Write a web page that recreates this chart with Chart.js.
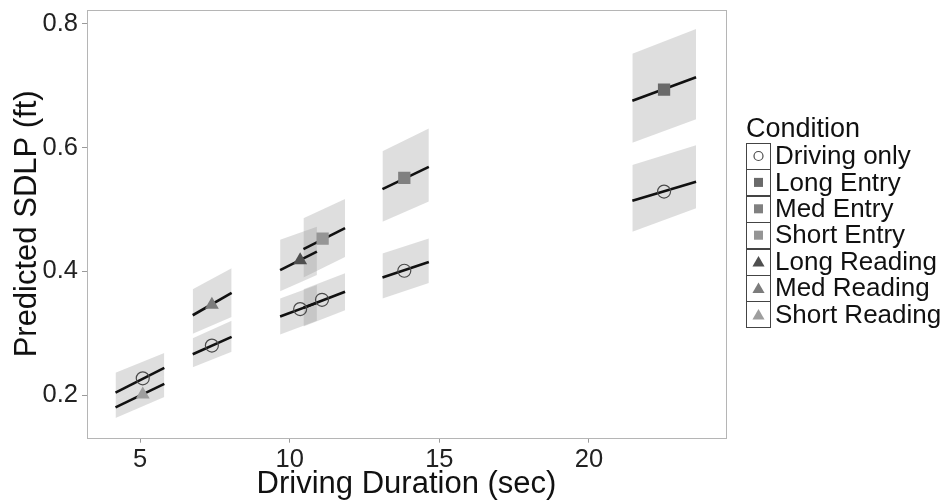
<!DOCTYPE html>
<html>
<head>
<meta charset="utf-8">
<script src="https://cdn.jsdelivr.net/npm/chart.js@4.4.1/dist/chart.umd.min.js"></script>
<style>
  html, body { margin: 0; padding: 0; background: #fff; }
  #wrap { width: 945px; height: 502px; position: relative; }
</style>
</head>
<body>
<div id="wrap"><canvas id="chart"></canvas></div>
<script>
// DATA
const conditions = ["Driving only", "Long Entry", "Med Entry", "Short Entry", "Long Reading", "Med Reading", "Short Reading"];

// predicted SDLP at each task's mean duration
const pointCond = ["Driving only", "Driving only", "Driving only", "Driving only", "Driving only", "Driving only",
                   "Long Entry", "Med Entry", "Short Entry", "Long Reading", "Med Reading", "Short Reading"];
const pointX = [5.09, 7.40, 10.35, 11.08, 13.83, 22.51, 22.51, 13.83, 11.10, 10.35, 7.40, 5.09];
const pointY = [0.227, 0.280, 0.339, 0.354, 0.401, 0.529, 0.694, 0.551, 0.453, 0.418, 0.346, 0.201];

// fitted segments: start/end of duration, fit, lower and upper band
const segCond = ["Short Reading", "Driving only", "Med Reading", "Driving only", "Long Reading", "Driving only",
                 "Short Entry", "Driving only", "Med Entry", "Driving only", "Long Entry", "Driving only"];
const segX0 = [4.18, 4.18, 6.76, 6.76, 9.68, 9.68, 10.46, 10.46, 13.10, 13.10, 21.45, 21.45];
const segX1 = [5.81, 5.81, 8.06, 8.06, 10.91, 10.91, 11.85, 11.85, 14.65, 14.65, 23.58, 23.58];
const fit0 = [0.180, 0.204, 0.329, 0.266, 0.402, 0.327, 0.436, 0.341, 0.533, 0.390, 0.676, 0.514];
const fit1 = [0.218, 0.244, 0.365, 0.294, 0.432, 0.349, 0.470, 0.367, 0.569, 0.415, 0.714, 0.545];
const lo0 = [0.163, 0.192, 0.299, 0.245, 0.368, 0.298, 0.390, 0.311, 0.480, 0.356, 0.608, 0.464];
const lo1 = [0.197, 0.231, 0.326, 0.270, 0.394, 0.320, 0.423, 0.337, 0.513, 0.381, 0.646, 0.502];
const hi0 = [0.192, 0.236, 0.371, 0.292, 0.451, 0.356, 0.486, 0.371, 0.594, 0.429, 0.752, 0.572];
const hi1 = [0.231, 0.268, 0.405, 0.320, 0.472, 0.378, 0.517, 0.397, 0.631, 0.453, 0.792, 0.604];

const xTicks = [5, 10, 15, 20];
const yTicks = [0.2, 0.4, 0.6, 0.8];

// STYLES
const FONT = '"Liberation Sans", Arial, sans-serif';
const condShape = ["circle", "rect", "rect", "rect", "triangle", "triangle", "triangle"];
const condColor = ["#4a4a4a", "#6a6a6a", "#808080", "#959595", "#4f4f4f", "#7c7c7c", "#9e9e9e"];
const bandColor = "rgba(150,150,150,0.31)";

function pointRadius(shape) {
    if (shape === "circle") return 6.5;
    if (shape === "rect") return 8.7;
    return 8;
}

const datasets = [];

// points first so they are drawn on top
conditions.forEach((c, ci) => {
    const pts = [];
    pointCond.forEach((pc, i) => {
        if (pc === c) pts.push({ x: pointX[i], y: pointY[i] });
    });
    const hollow = condShape[ci] === "circle";
    datasets.push({
        label: c,
        data: pts,
        showLine: false,
        pointStyle: condShape[ci],
        pointRadius: pointRadius(condShape[ci]),
        backgroundColor: hollow ? "rgba(0,0,0,0)" : condColor[ci],
        borderColor: condColor[ci],
        pointBorderWidth: hollow ? 1.2 : 0,
        order: 1
    });
});

// fit lines
segCond.forEach((c, i) => {
    datasets.push({
        label: c + " fit",
        data: [{ x: segX0[i], y: fit0[i] }, { x: segX1[i], y: fit1[i] }],
        borderColor: "#111111",
        borderWidth: 2.6,
        pointRadius: 0,
        fill: false,
        order: 2
    });
});

// bands: lower edge, then upper edge filled down to it
segCond.forEach((c, i) => {
    datasets.push({
        label: c + " lo",
        data: [{ x: segX0[i], y: lo0[i] }, { x: segX1[i], y: lo1[i] }],
        borderColor: "rgba(0,0,0,0)",
        borderWidth: 0,
        pointRadius: 0,
        fill: false,
        order: 3
    });
    datasets.push({
        label: c + " hi",
        data: [{ x: segX0[i], y: hi0[i] }, { x: segX1[i], y: hi1[i] }],
        borderColor: "rgba(0,0,0,0)",
        borderWidth: 0,
        pointRadius: 0,
        fill: "-1",
        backgroundColor: bandColor,
        order: 3
    });
});

// LEGEND + PANEL BORDER
const panelPlugin = {
    id: "panel",
    afterDraw(chart) {
        const { ctx, chartArea: a } = chart;
        ctx.save();
        ctx.strokeStyle = "#b5b5b5";
        ctx.lineWidth = 1;
        ctx.strokeRect(Math.round(a.left) + 0.5, Math.round(a.top) + 0.5,
            Math.round(a.right - a.left), Math.round(a.bottom - a.top));
        ctx.restore();
    }
};

const legendPlugin = {
    id: "condLegend",
    afterDraw(chart) {
        const ctx = chart.ctx;
        ctx.save();
        ctx.textBaseline = "middle";
        ctx.fillStyle = "#111";
        ctx.font = "27px " + FONT;
        ctx.fillText("Condition", 746, 130);

        ctx.font = "26px " + FONT;
        conditions.forEach((c, i) => {
            const cy = 156 + i * 26.4;
            ctx.strokeStyle = "#444";
            ctx.lineWidth = 1;
            ctx.strokeRect(746.5, Math.round(cy - 13) + 0.5, 24, 26);

            const shape = condShape[i];
            const hollow = shape === "circle";
            ctx.fillStyle = hollow ? "rgba(0,0,0,0)" : condColor[i];
            ctx.strokeStyle = condColor[i];
            ctx.lineWidth = 1.2;
            Chart.helpers.drawPoint(ctx, {
                pointStyle: shape,
                radius: hollow ? 4.5 : (shape === "rect" ? 6.4 : 7),
                rotation: 0,
                borderWidth: hollow ? 1.2 : 0
            }, 758.5, cy + (shape === "triangle" ? 1.5 : 0));

            ctx.fillStyle = "#111";
            ctx.fillText(c, 775, cy + 1);
        });
        ctx.restore();
    }
};

new Chart(document.getElementById("chart"), {
    type: "line",
    data: { datasets },
    options: {
        responsive: true,
        maintainAspectRatio: false,
        animation: false,
        layout: { padding: { top: 10, right: 219, bottom: 0, left: 0 } },
        plugins: {
            legend: { display: false },
            tooltip: { enabled: false }
        },
        scales: {
            x: {
                type: "linear",
                min: 3.227,
                max: 24.58,
                afterBuildTicks: s => { s.ticks = xTicks.map(v => ({ value: v })); },
                afterFit: s => { s.height = 64.3; s.paddingLeft = 0; s.paddingRight = 0; },
                grid: { display: true, drawOnChartArea: false, drawTicks: true, tickLength: 5, color: "#9a9a9a" },
                border: { display: false },
                ticks: { font: { family: FONT, size: 25.5 }, color: "#222", padding: 2, maxRotation: 0 },
                title: {
                    display: true,
                    text: "Driving Duration (sec)",
                    font: { family: FONT, size: 31, lineHeight: 1 },
                    color: "#111",
                    padding: { top: 0, bottom: 2 }
                }
            },
            y: {
                type: "linear",
                min: 0.131,
                max: 0.8226,
                afterBuildTicks: s => { s.ticks = yTicks.map(v => ({ value: v })); },
                afterFit: s => { s.width = 87; s.paddingTop = 0; s.paddingBottom = 0; },
                grid: { display: true, drawOnChartArea: false, drawTicks: true, tickLength: 5, color: "#9a9a9a" },
                border: { display: false },
                ticks: {
                    font: { family: FONT, size: 25.5 },
                    color: "#222",
                    padding: 4,
                    callback: v => v.toFixed(1)
                },
                title: {
                    display: true,
                    text: "Predicted SDLP (ft)",
                    font: { family: FONT, size: 31, lineHeight: 1 },
                    color: "#111",
                    padding: { top: 12, bottom: 0 }
                }
            }
        }
    },
    plugins: [panelPlugin, legendPlugin]
});
</script>
</body>
</html>
